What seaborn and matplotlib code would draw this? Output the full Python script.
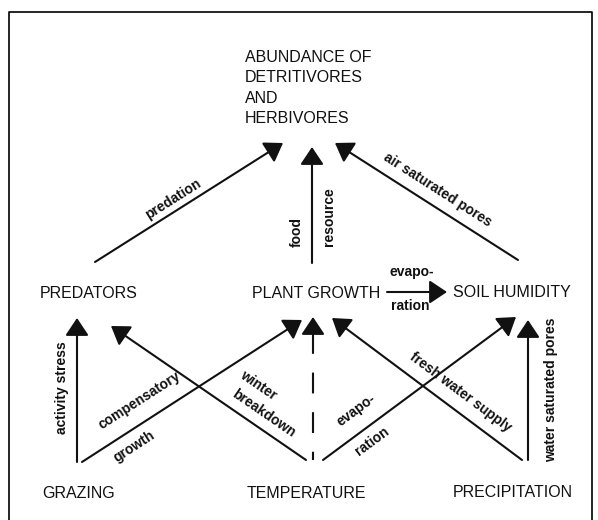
import numpy as np
import pandas as pd
import matplotlib
matplotlib.use("Agg")
import matplotlib.pyplot as plt
import seaborn as sns

# ---------------- data ----------------
node_keys = ["ABUNDANCE", "PREDATORS", "PLANT", "SOIL", "GRAZING", "TEMPERATURE", "PRECIPITATION"]
node_texts = ["ABUNDANCE OF\nDETRITIVORES\nAND\nHERBIVORES", "PREDATORS", "PLANT GROWTH",
              "SOIL HUMIDITY", "GRAZING", "TEMPERATURE", "PRECIPITATION"]

edge_source = ["PREDATORS", "PLANT", "SOIL", "PLANT", "GRAZING", "GRAZING",
               "TEMPERATURE", "TEMPERATURE", "TEMPERATURE", "PRECIPITATION", "PRECIPITATION"]
edge_target = ["ABUNDANCE", "ABUNDANCE", "ABUNDANCE", "SOIL", "PREDATORS", "PLANT",
               "PREDATORS", "PLANT", "SOIL", "PLANT", "SOIL"]
edge_labels = [["predation"], ["food", "resource"], ["air saturated pores"], ["evapo-", "ration"],
               ["activity stress"], ["compensatory", "growth"], ["winter", "breakdown"], [],
               ["evapo-", "ration"], ["fresh water supply"], ["water saturated pores"]]
edge_uncertain = [False, False, False, False, False, False, False, True, False, False, False]

# ---------------- layout (pixel space of the 598x520 figure) ----------------
W, H = 598, 520
node_pos = {  # left x, baseline y of first line
    "ABUNDANCE": (245, 62), "PREDATORS": (40, 298), "PLANT": (252, 298), "SOIL": (453, 297),
    "GRAZING": (42, 498), "TEMPERATURE": (247, 498), "PRECIPITATION": (453, 497),
}
edge_geom = [  # start, tip
    ((95, 262), (283, 143)), ((312, 263), (312, 147)), ((518, 260), (335, 143)),
    ((387, 292), (447, 292)), ((77, 462), (77, 318)), ((82, 462), (302, 320)),
    ((306, 460), (111, 326)), ((313, 460), (313, 317)), ((323, 460), (516, 317)),
    ((522, 460), (332, 318)), ((528, 460), (528, 320)),
]
label_pos = [
    [(173, 199)], [(297, 232), (329, 217)], [(438, 190)], [(412, 272), (410, 306)],
    [(62, 388)], [(140, 400), (134, 447)], [(258, 385), (264, 413)], [],
    [(356, 410), (372, 441)], [(460, 392)], [(551, 390)],
]

sns.set_theme(style="white")
plt.rcParams["font.family"] = ["Liberation Sans", "DejaVu Sans"]

fig = plt.figure(figsize=(W / 100, H / 100), dpi=100)
ax = fig.add_axes([0, 0, 1, 1])
ax.set_xlim(0, W)
ax.set_ylim(H, 0)
ax.axis("off")

# frame
ax.plot([9, 9, 592, 592], [H, 12, 12, H], color="black", lw=1.2)

ink = "#111111"
head = "-|>,head_length=0.9,head_width=0.6"

for i, ((x0, y0), (x1, y1)) in enumerate(edge_geom):
    if edge_uncertain[i]:
        hb = y1 + 16
        seg = pd.DataFrame({"x": [x0, x1], "y": [hb, y0]})
        sns.lineplot(data=seg, x="x", y="y", ax=ax, color=ink, lw=1.5,
                     linestyle=(0, (10, 9)), sort=False, estimator=None)
        ax.annotate("", xy=(x1, y1), xytext=(x1, hb),
                    arrowprops=dict(arrowstyle=head, color=ink, lw=1.5,
                                    mutation_scale=12, shrinkA=0, shrinkB=0))
    else:
        ax.annotate("", xy=(x1, y1), xytext=(x0, y0),
                    arrowprops=dict(arrowstyle=head, color=ink, lw=1.5,
                                    mutation_scale=12, shrinkA=0, shrinkB=0))
    ang = np.degrees(np.arctan2(-(y1 - y0), x1 - x0))
    if ang > 90:
        ang -= 180
    elif ang < -90:
        ang += 180
    for txt, (lx, ly) in zip(edge_labels[i], label_pos[i]):
        ax.text(lx, ly, txt, rotation=ang, rotation_mode="anchor", ha="center",
                va="center", fontsize=10, fontweight="bold", color=ink)

for key, txt in zip(node_keys, node_texts):
    x, y = node_pos[key]
    for j, line in enumerate(txt.split("\n")):
        ax.text(x, y + j * 20.3, line, ha="left", va="baseline", fontsize=11.5, color=ink)

fig.savefig("out.png", dpi=100, facecolor="white")
